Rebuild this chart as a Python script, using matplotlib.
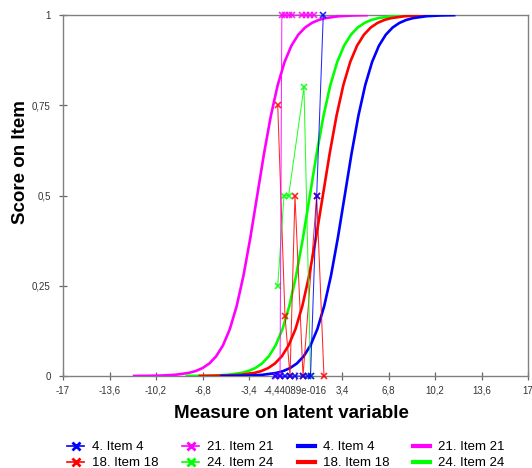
import matplotlib
matplotlib.use("Agg")
import matplotlib.pyplot as plt
from matplotlib.lines import Line2D

plt.rcParams['font.family'] = ['Liberation Sans', 'DejaVu Sans']

# ---------------- data ----------------
x_ticks = [-17, -13.6, -10.2, -6.8, -3.4, 0, 3.4, 6.8, 10.2, 13.6, 17]
x_tick_labels = ["-17", "-13,6", "-10,2", "-6,8", "-3,4", "-4,44089e-016",
                 "3,4", "6,8", "10,2", "13,6", "17"]
y_ticks = [0, 0.25, 0.5, 0.75, 1]
y_tick_labels = ["0", "0,25", "0,5", "0,75", "1"]

# expected score levels of the item characteristic curves, and the
# measure at which each curve reaches those levels
icc_scores = [0.0002, 0.0005, 0.0013, 0.0033, 0.0086, 0.0137, 0.0219, 0.0347,
              0.0547, 0.0851, 0.1301, 0.1939, 0.2789, 0.3834, 0.5, 0.6166,
              0.7211, 0.8061, 0.8699, 0.9149, 0.9453, 0.9653, 0.9781, 0.9863,
              0.9914, 0.9967, 0.9987, 0.9995]
icc_x_item4 = [-5.4, -4.4, -3.4, -2.4, -1.4, -0.9, -0.4, 0.1, 0.6, 1.1, 1.6,
               2.1, 2.6, 3.1, 3.6, 4.1, 4.6, 5.1, 5.6, 6.1, 6.6, 7.1, 7.6,
               8.1, 8.6, 9.6, 10.6, 11.6]
icc_x_item21 = [-11.8, -10.8, -9.8, -8.8, -7.8, -7.3, -6.8, -6.3, -5.8, -5.3,
                -4.8, -4.3, -3.8, -3.3, -2.8, -2.3, -1.8, -1.3, -0.8, -0.3,
                0.2, 0.7, 1.2, 1.7, 2.2, 3.2, 4.2, 5.2]
icc_x_item18 = [-7.0, -6.0, -5.0, -4.0, -3.0, -2.5, -2.0, -1.5, -1.0, -0.5,
                0.0, 0.5, 1.0, 1.5, 2.0, 2.5, 3.0, 3.5, 4.0, 4.5, 5.0, 5.5,
                6.0, 6.5, 7.0, 8.0, 9.0, 10.0]
icc_x_item24 = [-7.95, -6.95, -5.95, -4.95, -3.95, -3.45, -2.95, -2.45, -1.95,
                -1.45, -0.95, -0.45, 0.05, 0.55, 1.05, 1.55, 2.05, 2.55, 3.05,
                3.55, 4.05, 4.55, 5.05, 5.55, 6.05, 7.05, 8.05, 9.05]

# observed mean scores in class intervals
obs_x_item4 = [-1.50, -1.13, -0.77, -0.40, -0.07, 0.55, 0.88, 1.10, 1.55, 2.03]
obs_y_item4 = [0, 0, 0, 0, 0, 0, 0, 0, 0.5, 1]
obs_x_item21 = [-1.43, -1.13, -1.00, -0.75, -0.50, -0.25, 0.48, 0.77, 1.06, 1.35]
obs_y_item21 = [0, 0, 1, 1, 1, 1, 1, 1, 1, 1]
obs_x_item18 = [-1.30, -0.77, -0.40, -0.04, 0.55, 1.55, 2.08]
obs_y_item18 = [0.75, 0.167, 0, 0.5, 0, 0.5, 0]
obs_x_item24 = [-1.30, -0.84, -0.50, 0.62, 1.10]
obs_y_item24 = [0.25, 0.5, 0.5, 0.8, 0]

labels = ["4. Item 4", "21. Item 21", "18. Item 18", "24. Item 24"]
BLUE, MAGENTA, RED, GREEN = "#0000FF", "#FF00FF", "#FF0000", "#00FF00"

# ---------------- figure ----------------
fig = plt.figure(figsize=(5.32, 4.68), dpi=100)
ax = fig.add_axes([63 / 532, 1 - 376 / 468, 465 / 532, 361 / 468])

ax.plot(icc_x_item21, icc_scores, color=MAGENTA, lw=1.9, zorder=3)
ax.plot(icc_x_item24, icc_scores, color=GREEN, lw=1.9, zorder=3)
ax.plot(icc_x_item18, icc_scores, color=RED, lw=1.9, zorder=3)
ax.plot(icc_x_item4, icc_scores, color=BLUE, lw=1.9, zorder=3)

mk = dict(marker='x', ms=4.5, mew=1.2, lw=0.75, alpha=0.85,
          clip_on=False, zorder=4)
ax.plot(obs_x_item18, obs_y_item18, color=RED, **mk)
ax.plot(obs_x_item24, obs_y_item24, color=GREEN, **mk)
ax.plot(obs_x_item21, obs_y_item21, color=MAGENTA, **mk)
ax.plot(obs_x_item4, obs_y_item4, color=BLUE, **mk)

ax.set_xlim(-17, 17)
ax.set_ylim(0, 1)
ax.set_xticks(x_ticks)
ax.set_xticklabels(x_tick_labels)
ax.set_yticks(y_ticks)
ax.set_yticklabels(y_tick_labels)
ax.tick_params(direction='inout', length=6, width=0.9, colors='#666666',
               labelcolor='#333333', labelsize=7)
ax.tick_params(axis='y', pad=6)
ax.tick_params(axis='x', pad=4)
for s in ax.spines.values():
    s.set_color('#808080')
    s.set_linewidth(1.0)

fig.text(291 / 532, 1 - 413 / 468, "Measure on latent variable",
         ha='center', va='center', fontsize=13.5, fontweight='bold')
fig.text(20.5 / 532, 1 - 162.5 / 468, "Score on Item", rotation=90,
         ha='center', va='center', fontsize=13.5, fontweight='bold')

# legend (column-major: 2 rows x 4 columns)
h = [
    Line2D([], [], color=BLUE, marker='x', ms=6, mew=2, lw=1.2),
    Line2D([], [], color=RED, marker='x', ms=6, mew=2, lw=1.2),
    Line2D([], [], color=MAGENTA, marker='x', ms=6, mew=2, lw=1.2),
    Line2D([], [], color=GREEN, marker='x', ms=6, mew=2, lw=1.2),
    Line2D([], [], color=BLUE, lw=3),
    Line2D([], [], color=RED, lw=3),
    Line2D([], [], color=MAGENTA, lw=3),
    Line2D([], [], color=GREEN, lw=3),
]
lab = [labels[0], labels[2], labels[1], labels[3],
       labels[0], labels[2], labels[1], labels[3]]
fig.legend(h, lab, ncol=4, loc='upper left',
           bbox_to_anchor=(67 / 532, 1 - 441 / 468), frameon=False,
           fontsize=9.5, handlelength=1.3, handletextpad=0.6,
           columnspacing=1.8, labelspacing=0.3, borderaxespad=0,
           borderpad=0)

fig.savefig("out.png", dpi=100)
